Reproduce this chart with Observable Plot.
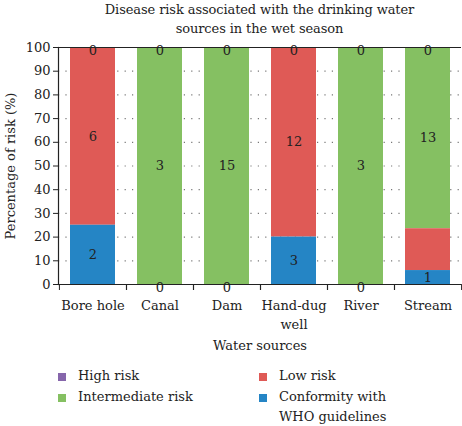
<!DOCTYPE html>
<html>
<head>
<meta charset="utf-8">
<script src="https://cdn.jsdelivr.net/npm/d3@7"></script>
<script src="https://cdn.jsdelivr.net/npm/@observablehq/plot@0.6"></script>
<style>
  html, body { margin: 0; padding: 0; background: #fff; }
  body { width: 462px; height: 426px; overflow: hidden; font-family: 'DejaVu Serif', serif; color: #222; }
  #title { height: 36px; box-sizing: border-box; padding-left: 57px; text-align: center; font-size: 13px; line-height: 19px; letter-spacing: -0.1px; }
  #legend { position: relative; height: 66px; font-size: 13px; }
  .item { position: absolute; display: flex; align-items: flex-start; line-height: 20px; }
  .sw { width: 8px; height: 8px; margin-top: 7px; margin-right: 12px; flex: none; }
  svg text { font-family: 'DejaVu Serif', serif; }
</style>
</head>
<body>
<div id="title">Disease risk associated with the drinking water<br>sources in the wet season</div>
<div id="chart"></div>
<div id="legend"></div>
<script>
const categories = ["Bore hole", "Canal", "Dam", "Hand-dug well", "River", "Stream"];
const seriesNames = ["High risk", "Intermediate risk", "Low risk", "Conformity with WHO guidelines"];
const seriesColors = ["#8666ab", "#85c062", "#df5a56", "#2585c5"];
const highRisk = [0, 0, 0, 0, 0, 0];
const intermediateRisk = [0, 3, 15, 0, 3, 13];
const lowRisk = [6, 0, 0, 12, 0, 3];
const conformity = [2, 0, 0, 3, 0, 1];
// which value labels are printed in the reference
const highShown = [1, 1, 1, 1, 1, 1];
const intermediateShown = [0, 1, 1, 0, 1, 1];
const lowShown = [1, 0, 0, 1, 0, 0];
const conformityShown = [1, 1, 1, 1, 1, 1];
const yTicks = [0, 10, 20, 30, 40, 50, 60, 70, 80, 90, 100];
const gridTicks = [10, 20, 30, 40, 50, 60, 70, 80, 90];

const seriesValues = [highRisk, intermediateRisk, lowRisk, conformity];
const seriesShown = [highShown, intermediateShown, lowShown, conformityShown];
const totals = categories.map((c, i) => seriesValues.reduce((s, arr) => s + arr[i], 0));
const data = [];
seriesNames.forEach((s, k) => {
  categories.forEach((c, i) => {
    data.push({category: c, series: s, value: seriesValues[k][i], pct: seriesValues[k][i] / totals[i] * 100, shown: !!seriesShown[k][i]});
  });
});
const stackOrder = ["Conformity with WHO guidelines", "Low risk", "Intermediate risk", "High risk"];

const W = 462, mL = 58, mR = 1;
const halfBand = (W - mL - mR) / categories.length / 2;
const font = "'DejaVu Serif', serif";
const fs = 13;

const chart = Plot.plot({
  width: W,
  height: 324,
  marginLeft: mL,
  marginRight: mR,
  marginTop: 11,
  marginBottom: 76,
  style: {fontFamily: font, fontSize: fs + "px", color: "#222", background: "white"},
  x: {domain: categories, padding: 0, label: null},
  y: {domain: [0, 100], label: null},
  color: {domain: seriesNames, range: seriesColors},
  marks: [
    Plot.ruleY(gridTicks, {stroke: "#777", strokeWidth: 1.2, strokeDasharray: "1.2,6.2"}),
    Plot.barY(data, Plot.stackY({x: "category", y: "pct", z: "series", fill: "series", order: stackOrder, insetLeft: 11, insetRight: 11})),
    Plot.text(data, Plot.stackY({x: "category", y: "pct", z: "series", order: stackOrder,
      text: d => (d.shown && d.value > 0) ? String(d.value) : "", fill: "#222", fontSize: fs})),
    Plot.text(data, Plot.stackY({x: "category", y: "pct", z: "series", order: stackOrder,
      text: d => (d.shown && d.value === 0) ? "0" : "", fill: "#222", fontSize: fs, dy: 3})),
    Plot.ruleY([0, 100], {stroke: "#222", strokeWidth: 1.2}),
    Plot.frame({anchor: "left", stroke: "#222", strokeWidth: 1.2}),
    Plot.axisY({ticks: yTicks, tickSize: 5, tickPadding: 3, label: null, fontSize: fs}),
    Plot.axisX({tickSize: 6, text: null, dx: -halfBand, label: null}),
    Plot.axisX({tickSize: 6, text: null, dx: halfBand, label: null}),
    Plot.axisX({tickSize: 0, tickPadding: 12, label: null, fontSize: fs, lineHeight: 1.45,
      tickFormat: d => d === "Hand-dug well" ? "Hand-dug\nwell" : d}),
    Plot.text(["Percentage of risk (%)"], {frameAnchor: "left", textAnchor: "middle", rotate: -90, dx: -48, fontSize: fs, fill: "#222"}),
    Plot.text(["Water sources"], {frameAnchor: "bottom", dy: 65, fontSize: fs, fill: "#222"})
  ]
});
document.getElementById("chart").appendChild(chart);

const legend = document.getElementById("legend");
const legendPos = [[58, 6], [58, 27], [259, 6], [259, 27]];
const legendOrder = ["High risk", "Intermediate risk", "Low risk", "Conformity with WHO guidelines"];
legendOrder.forEach((name, k) => {
  const item = document.createElement("div");
  item.className = "item";
  item.style.left = legendPos[k][0] + "px";
  item.style.top = legendPos[k][1] + "px";
  const sw = document.createElement("div");
  sw.className = "sw";
  sw.style.background = seriesColors[seriesNames.indexOf(name)];
  const label = document.createElement("div");
  label.innerHTML = name === "Conformity with WHO guidelines" ? "Conformity with<br>WHO guidelines" : name;
  item.appendChild(sw);
  item.appendChild(label);
  legend.appendChild(item);
});
</script>
</body>
</html>
